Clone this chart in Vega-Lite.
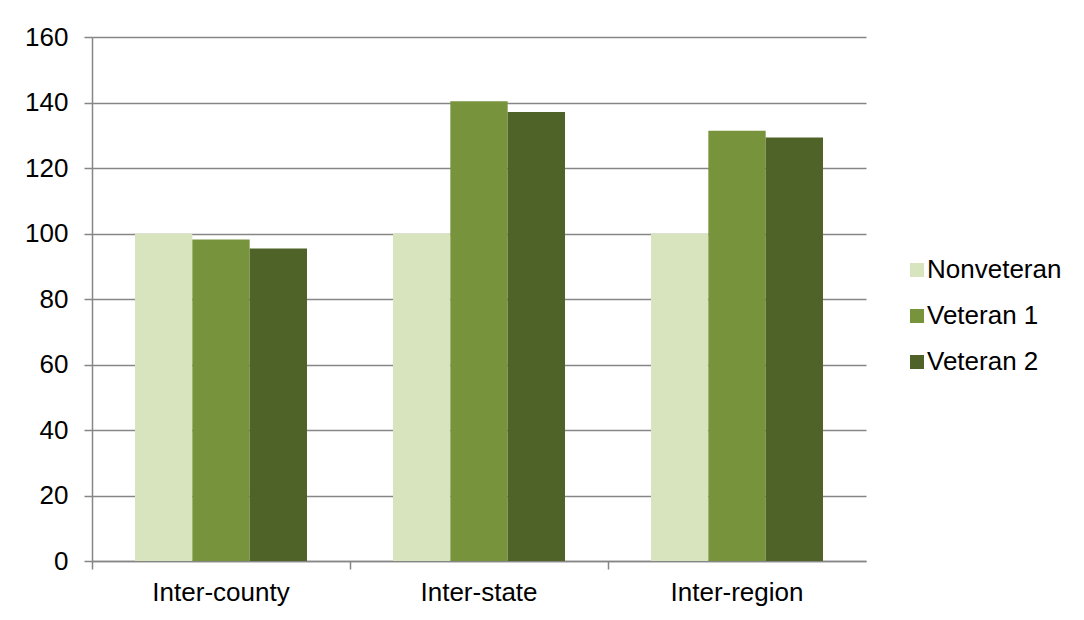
{
  "$schema": "https://vega.github.io/schema/vega-lite/v6.json",
  "width": 774,
  "height": 524,
  "autosize": {"type": "none"},
  "padding": {"left": 92, "top": 37, "right": 218, "bottom": 59},
  "background": "white",
  "config": {
    "view": {"stroke": null},
    "font": "Liberation Sans"
  },
  "data": {
    "values": [
      {"type": "Inter-county", "group": "Nonveteran", "value": 100},
      {"type": "Inter-county", "group": "Veteran 1", "value": 98.2},
      {"type": "Inter-county", "group": "Veteran 2", "value": 95.4},
      {"type": "Inter-state", "group": "Nonveteran", "value": 100},
      {"type": "Inter-state", "group": "Veteran 1", "value": 140.4},
      {"type": "Inter-state", "group": "Veteran 2", "value": 137.1},
      {"type": "Inter-region", "group": "Nonveteran", "value": 100},
      {"type": "Inter-region", "group": "Veteran 1", "value": 131.4},
      {"type": "Inter-region", "group": "Veteran 2", "value": 129.3}
    ]
  },
  "mark": {"type": "bar"},
  "encoding": {
    "x": {
      "field": "type",
      "type": "nominal",
      "sort": ["Inter-county", "Inter-state", "Inter-region"],
      "scale": {"paddingInner": 0, "paddingOuter": 0},
      "axis": {
        "title": null,
        "labelAngle": 0,
        "labelFontSize": 26,
        "labelColor": "#000000",
        "labelPadding": 10,
        "bandPosition": 0,
        "tickSize": 8,
        "tickColor": "#868686",
        "tickWidth": 1.5,
        "domainColor": "#868686",
        "domainWidth": 1.5,
        "grid": false
      }
    },
    "xOffset": {
      "field": "group",
      "type": "nominal",
      "scale": {"paddingInner": 0, "paddingOuter": 0.75}
    },
    "y": {
      "field": "value",
      "type": "quantitative",
      "scale": {"domain": [0, 160], "nice": false},
      "axis": {
        "title": null,
        "values": [0, 20, 40, 60, 80, 100, 120, 140, 160],
        "labelFontSize": 26,
        "labelColor": "#000000",
        "labelPadding": 16,
        "tickSize": 8,
        "tickColor": "#868686",
        "tickWidth": 1.5,
        "domainColor": "#868686",
        "domainWidth": 1.5,
        "gridColor": "#868686",
        "gridWidth": 1.5
      }
    },
    "color": {
      "field": "group",
      "type": "nominal",
      "scale": {
        "domain": ["Nonveteran", "Veteran 1", "Veteran 2"],
        "range": ["#D7E4BD", "#77933C", "#4F6228"]
      },
      "legend": {
        "title": null,
        "orient": "none",
        "legendX": 812,
        "legendY": 220,
        "symbolType": "square",
        "symbolSize": 196,
        "symbolStrokeWidth": 0,
        "labelFontSize": 26,
        "labelColor": "#000000",
        "labelOffset": -3,
        "rowPadding": 20
      }
    }
  }
}
